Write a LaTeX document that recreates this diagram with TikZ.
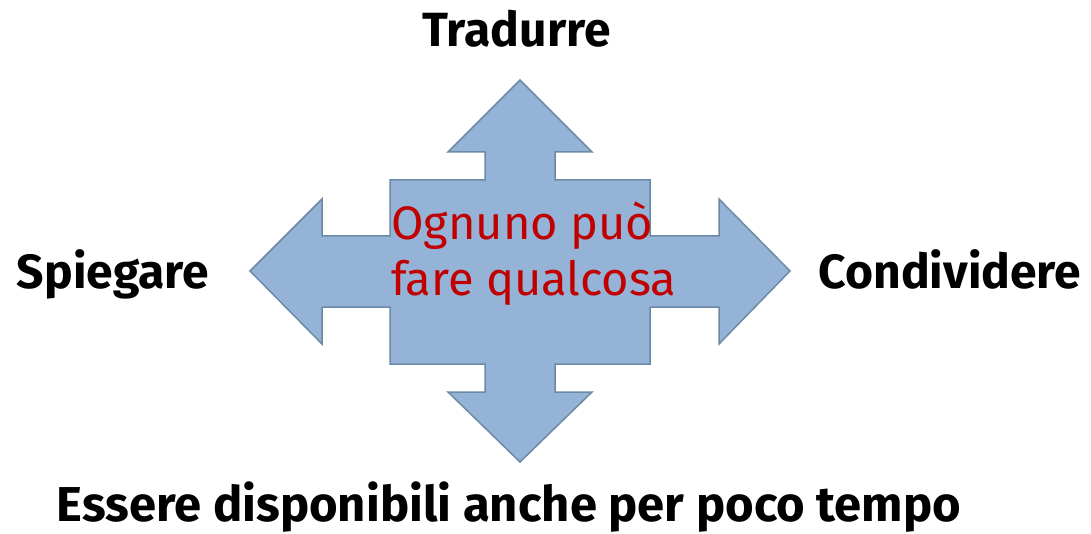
\documentclass[tikz,border=0pt]{standalone}
\usepackage{fontspec}
\setmainfont{Fira Sans}
\definecolor{arrowfill}{HTML}{95B3D7}
\definecolor{arrowline}{HTML}{6D8AA5}
\definecolor{redtext}{HTML}{C00000}
\begin{document}
\begin{tikzpicture}[x=1pt,y=-1pt,
  label/.style={font=\fontsize{48}{54}\selectfont\bfseries, inner sep=0pt, anchor=base},
  redlabel/.style={font=\fontsize{47}{54}\selectfont, text=redtext, inner sep=0pt, anchor=base west},
  quadarrow/.style={fill=arrowfill, draw=arrowline, line width=1.5pt, line join=miter}]
\useasboundingbox (0,0) rectangle (1091,534);
\draw[quadarrow] (520,80) -- (592,152) -- (555,152) -- (555,180) -- (650,180) -- (650,236)
  -- (719,236) -- (719,199) -- (790,271) -- (719,344) -- (719,307) -- (650,307)
  -- (650,364) -- (555,364) -- (555,392) -- (592,392) -- (520,462) -- (448,392)
  -- (485,392) -- (485,364) -- (390,364) -- (390,307) -- (322,307) -- (322,344)
  -- (250,271) -- (322,199) -- (322,236) -- (390,236) -- (390,180) -- (485,180)
  -- (485,152) -- (448,152) -- cycle;
\node[label] (top) at (516.5,47) {Tradurre};
\node[label] (left) at (113,288) {Spiegare};
\node[label] (right) at (950,288) {Condividere};
\node[label, font=\fontsize{49}{54}\selectfont\bfseries] (bottom) at (509,521) {Essere disponibili anche per poco tempo};
\node[redlabel] (red1) at (391,240) {Ognuno può};
\node[redlabel] (red2) at (391,296) {fare qualcosa};
\end{tikzpicture}
\end{document}
